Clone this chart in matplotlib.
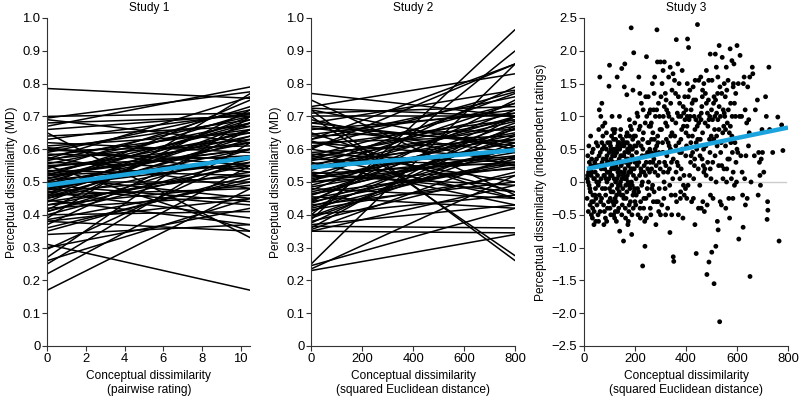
import matplotlib
matplotlib.use("Agg")
import matplotlib.pyplot as plt

plt.rcParams['font.family'] = ['Liberation Sans', 'DejaVu Sans']

# ---------------- Study 1: per-participant lines (value at x=0, value at x=10.5)
s1_x = [0, 10.5]
s1_start = [0.785, 0.31, 0.17, 0.22, 0.25, 0.26, 0.27, 0.295, 0.30, 0.34, 0.35, 0.37, 0.38, 0.385,
            0.39, 0.40, 0.41, 0.415, 0.42, 0.43, 0.44, 0.445, 0.45, 0.455, 0.46, 0.465, 0.47, 0.475,
            0.48, 0.48, 0.485, 0.49, 0.495, 0.50, 0.50, 0.505, 0.51, 0.515, 0.52, 0.52, 0.525, 0.53,
            0.535, 0.54, 0.545, 0.55, 0.55, 0.555, 0.56, 0.565, 0.57, 0.575, 0.58, 0.585, 0.59, 0.595,
            0.60, 0.605, 0.61, 0.62, 0.63, 0.64, 0.65, 0.66, 0.67, 0.68, 0.69, 0.695, 0.70, 0.40,
            0.43, 0.46, 0.38, 0.47, 0.52, 0.44, 0.49, 0.53, 0.57, 0.41, 0.36, 0.60, 0.45, 0.48, 0.51]
s1_end = [0.755, 0.17, 0.48, 0.55, 0.62, 0.45, 0.70, 0.58, 0.42, 0.37, 0.52, 0.66, 0.35, 0.50,
          0.77, 0.41, 0.60, 0.72, 0.46, 0.55, 0.68, 0.37, 0.58, 0.63, 0.48, 0.70, 0.52, 0.60,
          0.66, 0.43, 0.56, 0.75, 0.62, 0.50, 0.69, 0.57, 0.64, 0.45, 0.71, 0.55, 0.60, 0.67,
          0.52, 0.73, 0.62, 0.58, 0.35, 0.68, 0.54, 0.70, 0.63, 0.48, 0.66, 0.57, 0.72, 0.61,
          0.69, 0.53, 0.65, 0.59, 0.71, 0.67, 0.33, 0.705, 0.79, 0.70, 0.62, 0.775, 0.71, 0.56,
          0.49, 0.66, 0.45, 0.39, 0.60, 0.53, 0.44, 0.65, 0.76, 0.57, 0.51, 0.55, 0.64, 0.58, 0.68]
s1_fit = [0.49, 0.575]

# ---------------- Study 2: per-participant lines (value at x=0, value at x=800)
s2_x = [0, 800]
s2_start = [0.77, 0.75, 0.73, 0.725, 0.72, 0.70, 0.70, 0.69, 0.68, 0.67, 0.66, 0.65, 0.64, 0.63,
            0.62, 0.61, 0.60, 0.60, 0.59, 0.58, 0.57, 0.565, 0.56, 0.55, 0.545, 0.54, 0.53, 0.52,
            0.515, 0.51, 0.50, 0.50, 0.49, 0.48, 0.475, 0.47, 0.46, 0.455, 0.45, 0.44, 0.435, 0.43,
            0.42, 0.41, 0.40, 0.40, 0.39, 0.385, 0.38, 0.37, 0.365, 0.36, 0.355, 0.35, 0.35, 0.25,
            0.245, 0.235, 0.23, 0.72, 0.71, 0.665, 0.645, 0.625, 0.605, 0.585, 0.575, 0.555, 0.535,
            0.525, 0.505, 0.485, 0.465, 0.445, 0.425, 0.415, 0.395, 0.375, 0.68, 0.62, 0.58, 0.54,
            0.50, 0.46, 0.44, 0.63, 0.57, 0.52]
s2_end = [0.70, 0.46, 0.83, 0.70, 0.26, 0.275, 0.70, 0.55, 0.78, 0.62, 0.71, 0.45, 0.66, 0.76,
          0.57, 0.69, 0.86, 0.50, 0.63, 0.74, 0.55, 0.67, 0.43, 0.60, 0.77, 0.65, 0.47, 0.70,
          0.58, 0.62, 0.79, 0.54, 0.66, 0.45, 0.72, 0.60, 0.68, 0.42, 0.56, 0.75, 0.64, 0.50,
          0.57, 0.67, 0.90, 0.46, 0.61, 0.965, 0.53, 0.43, 0.36, 0.70, 0.58, 0.345, 0.49, 0.86,
          0.42, 0.52, 0.34, 0.60, 0.73, 0.59, 0.72, 0.47, 0.775, 0.56, 0.69, 0.63, 0.74,
          0.56, 0.645, 0.59, 0.545, 0.70, 0.61, 0.52, 0.62, 0.665, 0.61, 0.64, 0.45, 0.685,
          0.575, 0.63, 0.555, 0.86, 0.71, 0.49]
s2_fit = [0.545, 0.597]

# ---------------- Study 3: scatter (conceptual distance, perceptual dissimilarity)
s3_points = [
    (15, 0.4), (20, -0.05), (22, 0.2), (25, -0.15), (28, 0.1), (30, -0.3), (32, 0.45), (35, -0.2),
    (38, 0.05), (40, -0.45), (42, 0.3), (45, -0.1), (48, 0.6), (12, -0.25), (18, 0.15), (26, 0.7),
    (34, -0.4), (44, 0.15), (46, -0.6), (50, 0.0), (36, 0.5), (24, -0.35), (16, 0.0), (40, 0.25),
    (30, 0.35), (14, 0.1), (33, -0.55), (47, -0.25), (21, 0.3), (39, -0.65),
    (55, -0.5), (58, 0.8), (60, 1.1), (62, 1.6), (65, -0.3), (68, 0.2), (70, 0.6), (72, -0.1),
    (75, 0.35), (78, -0.65), (80, 0.1), (82, 0.9), (85, -0.2), (88, 0.5), (90, 0.0), (92, -0.4),
    (95, 0.3), (98, 1.46), (100, 1.78), (52, 0.25), (56, -0.05), (64, 0.45), (74, 0.7), (84, -0.55),
    (94, 0.15), (66, 1.0), (76, 0.25), (86, 0.05), (96, -0.3), (54, 0.55), (60, -0.2), (70, 1.2),
    (80, -0.45), (90, 0.4), (100, -0.1), (58, 0.0), (88, 0.75), (72, 0.5), (78, 0.1), (92, 0.3),
    (102, 0.6), (105, -0.5), (108, 0.2), (110, 1.0), (112, -0.3), (115, 0.45), (118, 0.05),
    (120, -0.55), (122, 0.8), (125, 0.25), (128, -0.2), (130, 1.6), (132, 0.55), (135, -0.05),
    (138, 0.35), (140, -0.75), (142, 0.7), (145, 0.15), (148, 1.73), (150, -0.35), (104, 0.1),
    (106, 0.35), (114, -0.15), (116, 0.65), (124, 0.0), (126, 0.5), (134, 0.2), (136, -0.4),
    (144, 0.4), (146, -0.2), (103, -0.25), (111, 0.25), (119, 0.75), (127, -0.6), (133, 0.15),
    (141, 0.3), (149, 0.05), (107, 0.5), (117, -0.35), (137, 0.6), (121, 0.4), (131, -0.1),
    (139, 1.0), (143, 0.0), (109, -0.05), (129, 0.3), (147, 0.55), (113, 0.8), (123, -0.45),
    (101, 0.15),
    (152, 0.3), (155, -0.9), (158, 1.45), (160, 1.8), (162, 0.6), (165, -0.25), (168, 1.33),
    (170, 0.1), (172, -0.65), (175, 0.45), (178, 0.95), (180, -0.1), (182, 0.85), (185, 2.35),
    (187, -0.8), (190, 0.2), (192, 1.4), (195, 1.97), (198, 0.55), (200, -0.3), (154, 0.1),
    (156, 0.4), (164, -0.05), (166, 0.7), (174, 0.25), (176, -0.45), (184, 0.5), (186, 0.0),
    (194, 0.35), (196, -0.15), (153, -0.2), (161, 0.2), (169, 0.75), (177, -0.35), (183, 0.15),
    (191, 0.65), (199, 0.9), (157, 0.55), (163, -0.55), (173, 0.0), (181, 0.3), (189, -0.05),
    (159, 0.05), (171, 0.5), (179, 0.7), (193, -0.4), (197, 0.2), (167, 0.35), (151, 0.65),
    (188, 0.4),
    (202, 0.7), (205, -0.2), (208, 1.05), (210, 0.35), (212, -0.5), (215, 1.6), (218, 0.1),
    (220, 0.85), (222, -0.3), (225, 1.2), (228, 0.4), (230, -1.28), (232, 1.1), (235, 0.15),
    (238, -0.6), (239, -0.98), (240, 0.9), (242, 1.3), (245, 1.91), (248, -0.1), (250, 0.6),
    (204, 0.05), (214, -0.15), (224, 0.55), (234, -0.4), (244, 0.3), (206, 0.45), (216, 0.8),
    (226, -0.05), (236, 0.25), (246, 1.0), (203, -0.35), (213, 0.6), (223, 0.2), (233, 0.75),
    (243, -0.25), (209, 0.25), (219, 1.35), (229, 0.0), (249, 0.45), (211, 1.0), (221, -0.55),
    (231, 0.5), (241, 0.1),
    (252, 1.3), (255, -0.2), (258, 0.5), (260, 1.1), (262, -0.5), (265, 0.2), (268, 1.5),
    (270, 0.75), (272, -0.3), (275, 1.35), (278, 0.15), (280, 1.0), (282, -0.65), (285, 0.55),
    (286, 2.32), (288, 1.83), (290, 0.1), (292, 1.2), (295, -0.1), (298, 0.8), (300, 1.83),
    (254, 0.6), (264, 0.9), (274, 0.35), (284, -0.3), (294, 0.45), (256, 1.05), (266, -0.1),
    (276, 0.65), (296, 1.0), (253, 0.0), (263, 0.45), (273, 1.1), (283, 0.25), (293, -0.45),
    (259, 0.3), (269, -0.05), (279, 0.5), (289, 0.7), (299, 0.2), (261, 0.85), (277, 1.6),
    (291, -0.3), (257, 0.15),
    (302, 1.3), (305, -0.35), (308, 0.6), (310, 1.7), (312, 0.15), (315, 1.83), (318, -0.1),
    (320, 0.9), (322, 1.25), (325, 0.4), (328, -0.4), (330, 1.05), (332, 1.6), (335, 0.2),
    (337, -0.77), (338, 1.75), (340, 0.7), (342, -0.2), (345, 1.4), (348, 0.05), (350, -1.14),
    (352, -1.21), (304, 0.8), (314, 0.0), (324, 1.1), (334, 0.55), (344, -0.5), (306, 1.5),
    (316, 0.3), (326, 0.85), (336, -0.05), (346, 0.95), (309, 0.45), (319, 1.35), (329, 0.15),
    (339, 0.5), (349, 1.65), (313, -0.25), (323, 0.65), (333, 1.0), (343, 0.3), (311, 1.0),
    (321, 0.25),
    (355, 1.55), (358, -0.2), (360, 0.9), (362, 2.17), (365, 0.3), (368, 1.8), (370, -0.5),
    (372, 0.6), (375, 1.2), (378, -0.25), (380, 1.0), (382, 0.45), (385, 1.7), (388, -0.55),
    (390, 0.85), (392, 0.1), (395, 1.3), (398, -0.1), (400, 0.75), (356, 0.7), (366, 1.05),
    (376, 0.05), (386, 0.5), (396, 0.95), (359, 1.35), (369, 0.25), (379, -0.15), (389, 1.15),
    (399, 0.4), (363, -0.3), (373, 1.5), (383, 0.8), (393, -0.2), (361, 0.15), (371, 1.0),
    (381, 0.2), (391, 1.05),
    (402, 0.55), (405, 1.5), (406, 2.18), (408, -0.05), (410, 2.05), (412, 0.95), (415, 1.4),
    (418, 0.3), (420, 1.1), (422, -0.3), (425, 0.7), (428, 1.45), (430, 0.05), (432, 1.0),
    (435, -0.65), (438, 1.25), (440, -1.09), (442, 0.5), (445, 2.4), (448, 0.2), (450, 1.55),
    (404, 0.85), (414, 0.1), (424, 1.2), (434, 0.35), (444, 0.85), (409, 1.3), (419, 0.6),
    (429, -0.25), (439, 0.95), (449, -0.4), (416, 1.0), (426, 0.45), (436, 1.55), (446, 0.65),
    (403, -0.25), (433, 0.25),
    (452, 1.0), (455, 0.4), (458, 1.6), (460, -0.4), (462, 1.15), (465, 0.75), (468, 0.25),
    (470, 1.5), (472, -0.45), (475, 0.9), (478, 0.55), (480, 1.7), (482, -1.41), (485, 0.3),
    (488, 1.25), (490, -1.22), (492, 0.65), (495, 1.95), (498, 0.05), (500, 1.1), (501, -1.07),
    (454, -0.05), (464, 1.3), (474, 0.2), (484, 1.05), (494, 0.45), (456, 0.65), (466, -0.3),
    (476, 1.35), (486, 0.85), (496, -0.2), (459, 0.95), (469, 0.5), (479, 0.1), (489, 1.55),
    (499, 0.7), (463, 0.35), (483, -0.35), (493, 1.0),
    (502, 1.55), (505, 0.3), (508, 1.2), (510, -1.55), (512, 0.8), (515, 1.95), (517, -0.98),
    (518, 0.0), (520, 1.05), (522, 0.55), (525, 1.6), (526, -0.73), (528, 0.25), (530, 2.08),
    (532, -2.13), (535, 1.0), (538, 0.6), (540, 1.35), (542, 1.9), (545, 0.05), (548, 0.85),
    (550, 1.5), (504, 0.95), (514, 0.4), (524, 1.35), (534, -0.3), (544, 0.75), (506, -0.25),
    (516, 1.25), (536, 0.45), (546, 1.1), (509, 0.65), (519, 1.75), (529, 0.8), (539, -0.35),
    (549, 0.2), (513, 1.0), (523, -0.6), (533, 1.45),
    (552, 1.0), (555, 0.55), (558, 1.75), (560, 0.2), (562, 0.9), (565, 1.55), (568, -0.25),
    (570, 0.75), (573, 2.03), (575, 1.2), (578, 0.05), (580, 1.85), (582, 0.45), (585, 1.45),
    (588, 1.8), (590, -0.05), (592, 0.6), (595, 1.35), (598, 0.0), (600, 2.08), (554, 1.3),
    (564, 0.35), (574, 0.85), (584, -0.25), (594, 1.0), (556, -0.4), (566, 1.1), (576, 0.6),
    (586, 1.5), (596, 0.3), (559, 0.0), (571, -0.55), (581, 1.0),
    (603, 0.45), (605, 1.5), (607, -0.87), (610, 1.0), (612, 1.93), (615, 0.4), (620, 0.15),
    (622, -0.2), (624, -0.69), (625, 1.5), (628, 1.6), (630, 0.05), (632, 1.1), (635, 0.4),
    (638, 0.9), (640, -0.25), (642, 1.45), (645, 0.55), (648, 0.75), (650, 1.6), (651, -1.44),
    (618, 1.0), (633, -0.35), (646, 0.95),
    (660, 1.75), (662, 1.65), (668, 0.4), (680, 1.25), (685, 0.45), (688, 0.3), (690, 0.1),
    (692, -0.05), (695, 0.35), (698, 0.8), (700, 0.45), (672, 1.1), (655, 0.0), (683, -0.2),
    (712, 1.3), (715, 1.0), (718, -0.57), (720, -0.3), (721, -0.43), (725, 1.75), (740, 0.45),
    (760, 0.99), (765, -0.9), (775, 0.87), (780, 0.48), (728, 0.8), (705, 0.15),
    # additional points of the dense low-distance cloud
    (13, 0.05), (17, -0.45), (19, 0.55), (23, -0.1), (27, 0.25), (29, -0.5), (31, 0.15), (37, -0.3),
    (41, 0.05), (43, -0.2), (49, 0.35), (51, -0.35), (53, 0.1), (57, -0.6), (59, 0.4), (61, 0.25),
    (63, -0.45), (67, 0.05), (69, -0.25), (71, 0.3), (73, 0.85), (77, -0.35), (79, 0.55), (81, 0.2),
    (83, -0.1), (87, 0.35), (89, -0.6), (91, 0.15), (93, 0.6), (97, 0.05), (99, 0.45), (102, -0.4),
    (104, 0.55), (106, -0.15), (108, 0.7), (110, 0.1), (112, 0.4), (114, 0.3), (116, -0.5),
    (118, 0.5), (120, 0.2), (122, -0.25), (124, 0.65), (126, -0.3), (128, 0.45), (130, 0.05),
    (132, -0.45), (134, 0.6), (136, 0.1), (138, -0.15), (140, 0.5), (142, -0.05), (144, 0.8),
    (146, 0.25), (148, -0.5), (150, 0.4), (152, -0.1), (154, 0.6), (156, -0.25), (158, 0.15),
    (160, 0.45), (162, -0.4), (164, 0.3), (166, 0.05), (168, -0.15), (170, 0.6), (172, 0.35),
    (174, -0.6), (176, 0.15), (178, -0.05), (180, 0.55), (182, -0.3), (184, 0.2), (186, 0.8),
    (188, -0.5), (190, 0.5), (192, -0.2), (194, 0.1), (196, 0.7), (198, -0.1), (200, 0.3),
    (205, 0.55), (210, -0.1), (215, 0.3), (220, -0.4), (225, 0.15), (230, 0.65), (235, -0.25),
    (240, 0.4), (245, -0.55), (250, 0.2), (255, 0.85), (260, -0.4), (265, 0.65), (270, 0.3),
    (275, -0.15), (280, 0.45), (285, 1.1), (290, 0.6), (295, 0.3), (300, -0.5),
    (310, 0.45), (320, -0.5), (330, 0.6), (340, 1.2), (350, 0.35), (360, 0.55), (370, 1.3),
    (380, 0.65), (390, -0.05), (400, 1.1), (410, 0.7), (420, 0.4), (430, 1.25), (440, 0.6),
    (450, 0.9), (460, 1.05), (470, 0.15), (480, 1.2), (490, 0.95), (500, 0.6), (510, 1.3),
    (520, 0.7), (530, 1.15), (540, 0.25), (550, 1.05), (560, 1.4), (570, 0.35), (580, 0.7),
    (590, 1.2), (600, 0.5), (315, 1.15), (345, 0.75), (375, 0.45), (405, 1.0), (435, 0.8),
    (465, 1.4), (495, 0.2), (525, 0.95), (555, 0.8), (585, 0.15),
]
s3_fit_x = [12, 800]
s3_fit_y = [0.2, 0.83]

BLUE = '#1aa3dc'
FS_TICK = 9.4
FS_LAB = 8.6

fig = plt.figure(figsize=(8, 4), dpi=100)
ax1 = fig.add_axes([0.059, 0.135, 0.254, 0.82])
ax2 = fig.add_axes([0.389, 0.135, 0.255, 0.82])
ax3 = fig.add_axes([0.73, 0.135, 0.255, 0.82])


def style(ax):
    for s in ['top', 'right']:
        ax.spines[s].set_visible(False)
    for s in ['left', 'bottom']:
        ax.spines[s].set_linewidth(0.8)
        ax.spines[s].set_color('#333333')
    ax.tick_params(direction='out', length=3.5, width=0.8, labelsize=FS_TICK, color='#333333', pad=1.5)


def fmt(v):
    return '0' if abs(v) < 1e-9 else f'{v:.1f}'.replace('-', '\u2212')


# Study 1
for a, b in zip(s1_start, s1_end):
    ax1.plot(s1_x, [a, b], color='black', lw=1.1, solid_capstyle='butt')
ax1.plot(s1_x, s1_fit, color=BLUE, lw=3.2, solid_capstyle='butt', zorder=5)
ax1.set_xlim(0, 10.5)
ax1.set_ylim(0, 1.0)
ax1.set_xticks([0, 2, 4, 6, 8, 10])
yt = [i / 10 for i in range(11)]
ax1.set_yticks(yt)
ax1.set_yticklabels([fmt(v) for v in yt])
ax1.set_title('Study 1', fontsize=FS_LAB, pad=5)
ax1.set_xlabel('Conceptual dissimilarity\n(pairwise rating)', fontsize=FS_LAB, labelpad=4)
ax1.set_ylabel('Perceptual dissimilarity (MD)', fontsize=FS_LAB, labelpad=3)
style(ax1)

# Study 2
for a, b in zip(s2_start, s2_end):
    ax2.plot(s2_x, [a, b], color='black', lw=1.1, solid_capstyle='butt')
ax2.plot(s2_x, s2_fit, color=BLUE, lw=3.2, solid_capstyle='butt', zorder=5)
ax2.set_xlim(0, 800)
ax2.set_ylim(0, 1.0)
ax2.set_xticks([0, 200, 400, 600, 800])
ax2.set_yticks(yt)
ax2.set_yticklabels([fmt(v) for v in yt])
ax2.set_title('Study 2', fontsize=FS_LAB, pad=5)
ax2.set_xlabel('Conceptual dissimilarity\n(squared Euclidean distance)', fontsize=FS_LAB, labelpad=4)
ax2.set_ylabel('Perceptual dissimilarity (MD)', fontsize=FS_LAB, labelpad=3)
style(ax2)

# Study 3
px = [p[0] for p in s3_points]
py = [p[1] for p in s3_points]
ax3.axhline(0, xmin=0.01, xmax=0.99, color='#cccccc', lw=1.0, zorder=0)
ax3.scatter(px, py, s=12, color='black', edgecolors='none', zorder=2)
ax3.plot(s3_fit_x, s3_fit_y, color=BLUE, lw=3.2, solid_capstyle='butt', zorder=5)
ax3.set_xlim(0, 800)
ax3.set_ylim(-2.5, 2.5)
ax3.set_xticks([0, 200, 400, 600, 800])
yt3 = [-2.5, -2.0, -1.5, -1.0, -0.5, 0, 0.5, 1.0, 1.5, 2.0, 2.5]
ax3.set_yticks(yt3)
ax3.set_yticklabels([fmt(v) for v in yt3])
ax3.set_title('Study 3', fontsize=FS_LAB, pad=5)
ax3.set_xlabel('Conceptual dissimilarity\n(squared Euclidean distance)', fontsize=FS_LAB, labelpad=4)
ax3.set_ylabel('Perceptual dissimilarity (independent ratings)', fontsize=FS_LAB, labelpad=3)
style(ax3)

fig.savefig('out.png', dpi=100)
